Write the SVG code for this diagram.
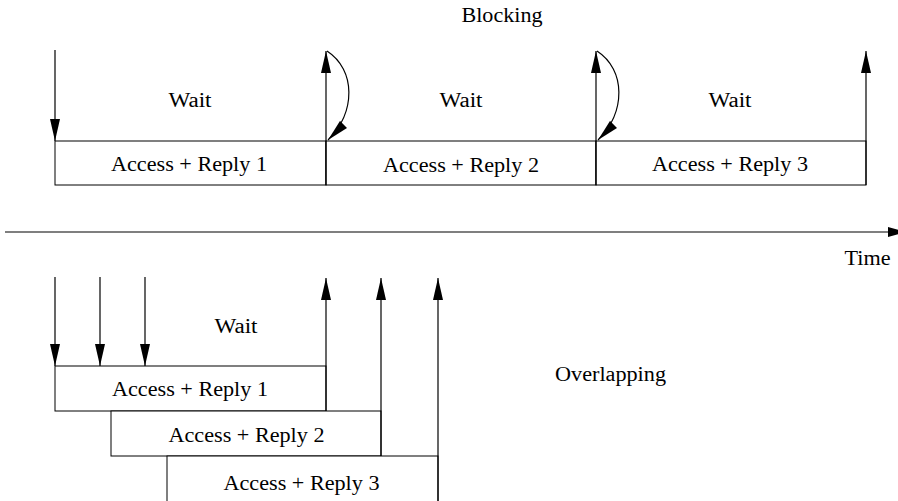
<svg xmlns="http://www.w3.org/2000/svg" width="898" height="501" viewBox="0 0 898 501">
<style>
text{font-family:"Liberation Serif","Times New Roman",serif;font-size:20px;fill:#000;text-anchor:middle}
.l{stroke:#000;stroke-width:1.2;fill:none}
.b{stroke:#000;stroke-width:1;fill:#fff}
</style>
<defs>
<marker id="ah2" markerWidth="22" markerHeight="10" refX="22" refY="5" orient="auto" markerUnits="userSpaceOnUse" viewBox="0 0 22 10">
<path d="M0,0 L22,5 L0,10 Z" fill="#000"/>
</marker>
</defs>
<text x="502" y="22" textLength="81" lengthAdjust="spacingAndGlyphs">Blocking</text>
<g id="top-boxes">
<g id="tb1"><rect class="b" x="55" y="141" width="271" height="44"/><text x="189" y="171" textLength="156" lengthAdjust="spacingAndGlyphs">Access + Reply 1</text></g>
<g id="tb2"><rect class="b" x="326" y="141" width="270" height="44"/><text x="461" y="172" textLength="156" lengthAdjust="spacingAndGlyphs">Access + Reply 2</text></g>
<g id="tb3"><rect class="b" x="596" y="141" width="270" height="44"/><text x="730" y="171" textLength="156" lengthAdjust="spacingAndGlyphs">Access + Reply 3</text></g>
</g>
<text x="190" y="107" textLength="43" lengthAdjust="spacingAndGlyphs">Wait</text>
<text x="461" y="107" textLength="43" lengthAdjust="spacingAndGlyphs">Wait</text>
<text x="730" y="107" textLength="43" lengthAdjust="spacingAndGlyphs">Wait</text>
<g id="bottom-boxes">
<g id="bb1"><rect class="b" x="55" y="366" width="271" height="45"/><text x="190" y="396" textLength="156" lengthAdjust="spacingAndGlyphs">Access + Reply 1</text></g>
<g id="bb2"><rect class="b" x="111" y="411" width="270" height="45"/><text x="246.5" y="442" textLength="156" lengthAdjust="spacingAndGlyphs">Access + Reply 2</text></g>
<g id="bb3"><rect class="b" x="167" y="456" width="271" height="50"/><text x="301.5" y="490" textLength="156" lengthAdjust="spacingAndGlyphs">Access + Reply 3</text></g>
</g>
<text x="236" y="333" textLength="43" lengthAdjust="spacingAndGlyphs">Wait</text>
<text x="610.5" y="381" textLength="111" lengthAdjust="spacingAndGlyphs">Overlapping</text>
<text x="867.5" y="265" textLength="46" lengthAdjust="spacingAndGlyphs">Time</text>
<g id="connectors">
<line class="l" x1="55" y1="50" x2="55" y2="141" marker-end="url(#ah2)"/>
<line class="l" x1="326" y1="185" x2="326" y2="51" marker-end="url(#ah2)"/>
<line class="l" x1="596" y1="185" x2="596" y2="51" marker-end="url(#ah2)"/>
<line class="l" x1="866" y1="185" x2="866" y2="51" marker-end="url(#ah2)"/>
<path class="l" d="M327,51 C356,70 356,112 328,140" marker-end="url(#ah2)"/>
<path class="l" d="M597,51 C626,70 626,112 598,140" marker-end="url(#ah2)"/>
<line class="l" x1="5" y1="232" x2="890" y2="232"/>
<polygon points="888,227 906,232 888,237" fill="#000"/>
<line class="l" x1="55" y1="277" x2="55" y2="366" marker-end="url(#ah2)"/>
<line class="l" x1="100" y1="277" x2="100" y2="366" marker-end="url(#ah2)"/>
<line class="l" x1="145" y1="277" x2="145" y2="366" marker-end="url(#ah2)"/>
<line class="l" x1="326" y1="411" x2="326" y2="278" marker-end="url(#ah2)"/>
<line class="l" x1="381" y1="456" x2="381" y2="278" marker-end="url(#ah2)"/>
<line class="l" x1="438" y1="501" x2="438" y2="278" marker-end="url(#ah2)"/>
</g>
</svg>
